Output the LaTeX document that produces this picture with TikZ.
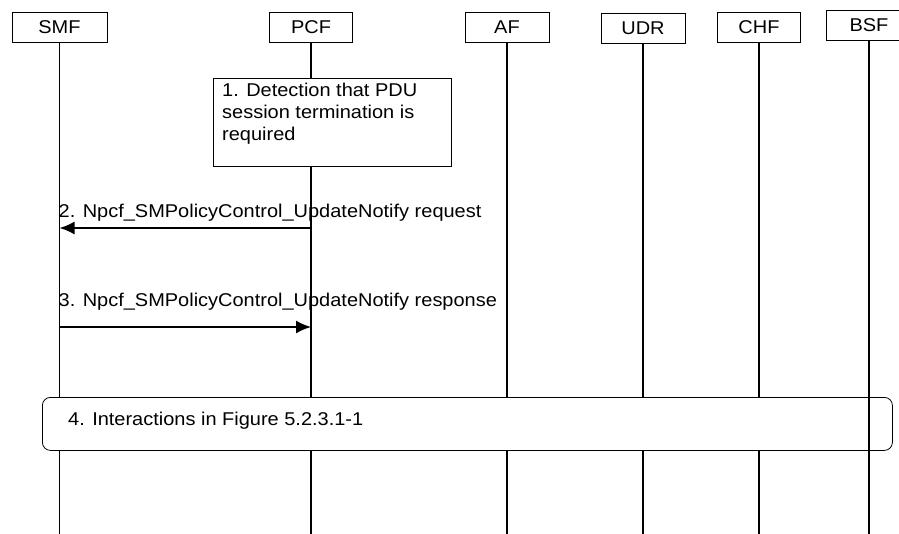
\documentclass[tikz,border=0pt]{standalone}
\usepackage{fontspec}
\setmainfont{Liberation Sans}[FakeStretch=1.08]
\usepackage{tikz}
\usetikzlibrary{arrows.meta}
\usetikzlibrary{positioning}
\tikzset{>={Latex[length=15pt,width=13pt]}}

\begin{document}
\begin{tikzpicture}[x=1pt, y=-1pt, font=\fontsize{18.5}{22}\selectfont,
		entity/.style={draw, line width=0.8pt, minimum height=30pt, inner sep=0pt},
		life/.style={line width=1.3pt},
		msg/.style={->, line width=1.8pt},
		lbl/.style={anchor=base west, inner sep=0pt}]
		\useasboundingbox (0,0) rectangle (899,534);
		\coordinate (bot) at (0,534);
		% entities
		\node[entity, minimum width=95pt] (smf) at (59.5,27) {SMF};
		\node[entity, minimum width=83pt] (pcf) at (311,27) {PCF};
		\node[entity, minimum width=84pt] (af) at (507,27.5) {AF};
		\node[entity, minimum width=84pt] (udr) at (643,28.5) {UDR};
		\node[entity, minimum width=83pt] (chf) at (759,27) {CHF};
		\node[entity, minimum width=86pt] (bsf) at (869,25.5) {BSF};
		% lifelines
		\foreach \n in {smf,pcf,af,udr,chf,bsf}
			\draw[life] (\n.south) -- (\n.south |- bot);
		% 1
		\node[draw, line width=0.8pt, fill=white, minimum width=238pt, minimum height=88pt, anchor=north west] (det) at (213,78) {};
		\node[anchor=north west, align=left, inner sep=0pt] (dettxt) at ([shift={(9,5)}]det.north west) {1. Detection that PDU\\session termination is\\required};
		% 2 and 3
		\coordinate (m2) at (0,228);
		\coordinate (m3) at (0,327);
		\draw[msg] (pcf |- m2) -- (smf |- m2);
		\path (smf |- m2) ++(-1,-10) node[lbl] (l2) {2. Npcf\_SMPolicyControl\_UpdateNotify request};
		\draw[msg] (smf |- m3) -- (pcf |- m3);
		\path (smf |- m3) ++(-1,-20) node[lbl] (l3) {3. Npcf\_SMPolicyControl\_UpdateNotify response};
		% 4
		\node[draw, line width=0.8pt, rounded corners=8pt, fill=white, minimum width=850pt, minimum height=53pt, anchor=north west] (intr) at (42,397) {};
		\draw[life] (bsf |- intr.north) -- (bsf |- intr.south);
		\node[lbl] (l4) at (68,425) {4. Interactions in Figure 5.2.3.1-1};
	\end{tikzpicture}
\end{document}
